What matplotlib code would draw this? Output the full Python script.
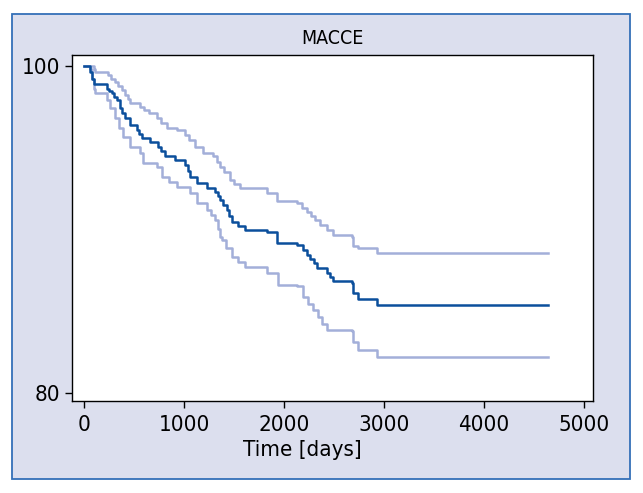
import matplotlib
matplotlib.use("Agg")
import matplotlib.pyplot as plt
from matplotlib import font_manager
from matplotlib.patches import Rectangle

# Kaplan-Meier estimate and 95% CI (step points: day, % event-free)
km_days = [0, 57, 75, 100, 224, 250, 274, 300, 324, 357, 380, 407, 457, 525, 550,
           575, 658, 738, 770, 808, 908, 1008, 1040, 1058, 1125, 1225, 1308, 1340,
           1358, 1390, 1425, 1450, 1475, 1540, 1609, 1826, 1926, 2126, 2192, 2230,
           2259, 2300, 2326, 2426, 2460, 2493, 2677, 2693, 2743, 2927, 4645]
km_surv = [100, 99.6, 99.2, 98.9, 98.6, 98.45, 98.3, 98.1, 97.9, 97.4, 97.1, 96.8,
           96.4, 96.05, 95.8, 95.6, 95.35, 95.05, 94.75, 94.45, 94.25, 93.95, 93.55,
           93.2, 92.8, 92.5, 92.3, 92.0, 91.8, 91.5, 91.2, 90.8, 90.45, 90.2, 89.95,
           89.85, 89.15, 89.05, 88.75, 88.45, 88.2, 87.9, 87.6, 87.3, 87.05, 86.8,
           86.7, 86.1, 85.7, 85.35, 85.35]

upper_days = [0, 95, 110, 240, 270, 307, 340, 374, 410, 440, 457, 558, 600, 650, 725,
              770, 825, 925, 1008, 1050, 1108, 1191, 1291, 1330, 1358, 1400, 1458,
              1500, 1558, 1826, 1926, 2126, 2180, 2226, 2270, 2309, 2360, 2426, 2493,
              2677, 2693, 2743, 2927, 4645]
upper_surv = [100, 99.8, 99.63, 99.45, 99.2, 99.0, 98.75, 98.5, 98.2, 97.95, 97.7,
              97.5, 97.3, 97.1, 96.8, 96.5, 96.2, 96.05, 95.75, 95.45, 95.05, 94.65,
              94.45, 94.1, 93.8, 93.5, 93.0, 92.75, 92.5, 92.2, 91.7, 91.6, 91.3,
              91.05, 90.8, 90.55, 90.25, 89.95, 89.65, 89.55, 88.95, 88.85, 88.55, 88.55]

lower_days = [0, 57, 75, 95, 107, 224, 260, 307, 350, 390, 457, 558, 591, 725, 775,
              850, 925, 1058, 1125, 1225, 1270, 1308, 1340, 1358, 1375, 1420, 1475,
              1540, 1609, 1826, 1942, 2126, 2192, 2240, 2292, 2340, 2380, 2426, 2677,
              2693, 2743, 2927, 4645]
lower_surv = [100, 99.8, 99.2, 98.6, 98.3, 97.9, 97.4, 96.8, 96.2, 95.65, 95.05,
              94.65, 94.05, 93.8, 93.2, 92.9, 92.6, 92.2, 91.6, 91.15, 90.85, 90.55,
              90.0, 89.55, 89.35, 88.85, 88.3, 88.0, 87.7, 87.3, 86.6, 86.5, 85.85,
              85.45, 85.05, 84.6, 84.2, 83.85, 83.75, 83.1, 82.6, 82.2, 82.2]

x_ticks = [0, 1000, 2000, 3000, 4000, 5000]
y_ticks = [80, 100]

# narrow font like the original (Helvetica condensed look)
names = {f.name for f in font_manager.fontManager.ttflist}
cond = [f for f in font_manager.fontManager.ttflist
        if f.name == 'DejaVu Sans' and f.stretch == 'condensed' and f.weight in (400, 'normal')]
if 'Liberation Sans Narrow' in names:
    plt.rcParams['font.family'] = ['Liberation Sans Narrow', 'DejaVu Sans']
elif cond:
    plt.rcParams['font.family'] = ['DejaVu Sans']
    plt.rcParams['font.stretch'] = 'condensed'
else:
    plt.rcParams['font.family'] = ['DejaVu Sans']

fig = plt.figure(figsize=(6.43, 4.93), dpi=100, facecolor='white')

# lavender panel with blue frame behind the plot
panel = Rectangle((12 / 643, 14 / 493), 618 / 643, 465 / 493, transform=fig.transFigure,
                  facecolor='#dcdfee', edgecolor='#3470b8', linewidth=1.3, zorder=-5)
fig.patches.append(panel)

ax = fig.add_axes([0.1124, 0.1866, 0.8094, 0.7018])
ax.set_zorder(1)
ax.set_facecolor('white')

ci_col = '#a3afd9'
ax.step(upper_days, upper_surv, where='post', color=ci_col, lw=1.8)
ax.step(lower_days, lower_surv, where='post', color=ci_col, lw=1.8)
ax.step(km_days, km_surv, where='post', color='#0b4f9c', lw=1.8)

ax.set_xlim(-120, 5090)
ax.set_ylim(79.49, 100.65)
ax.set_xticks(x_ticks)
ax.set_yticks(y_ticks)
ax.tick_params(direction='out', length=5, width=1, labelsize=16, colors='black')
ax.tick_params(axis='x', pad=5)
for s in ax.spines.values():
    s.set_linewidth(1.0)
    s.set_color('black')

ax.set_title('MACCE', fontsize=14, pad=8)
ax.set_xlabel('Time [days]', fontsize=16, labelpad=4, x=0.443)

fig.savefig('out.png', dpi=100, facecolor=fig.get_facecolor())
